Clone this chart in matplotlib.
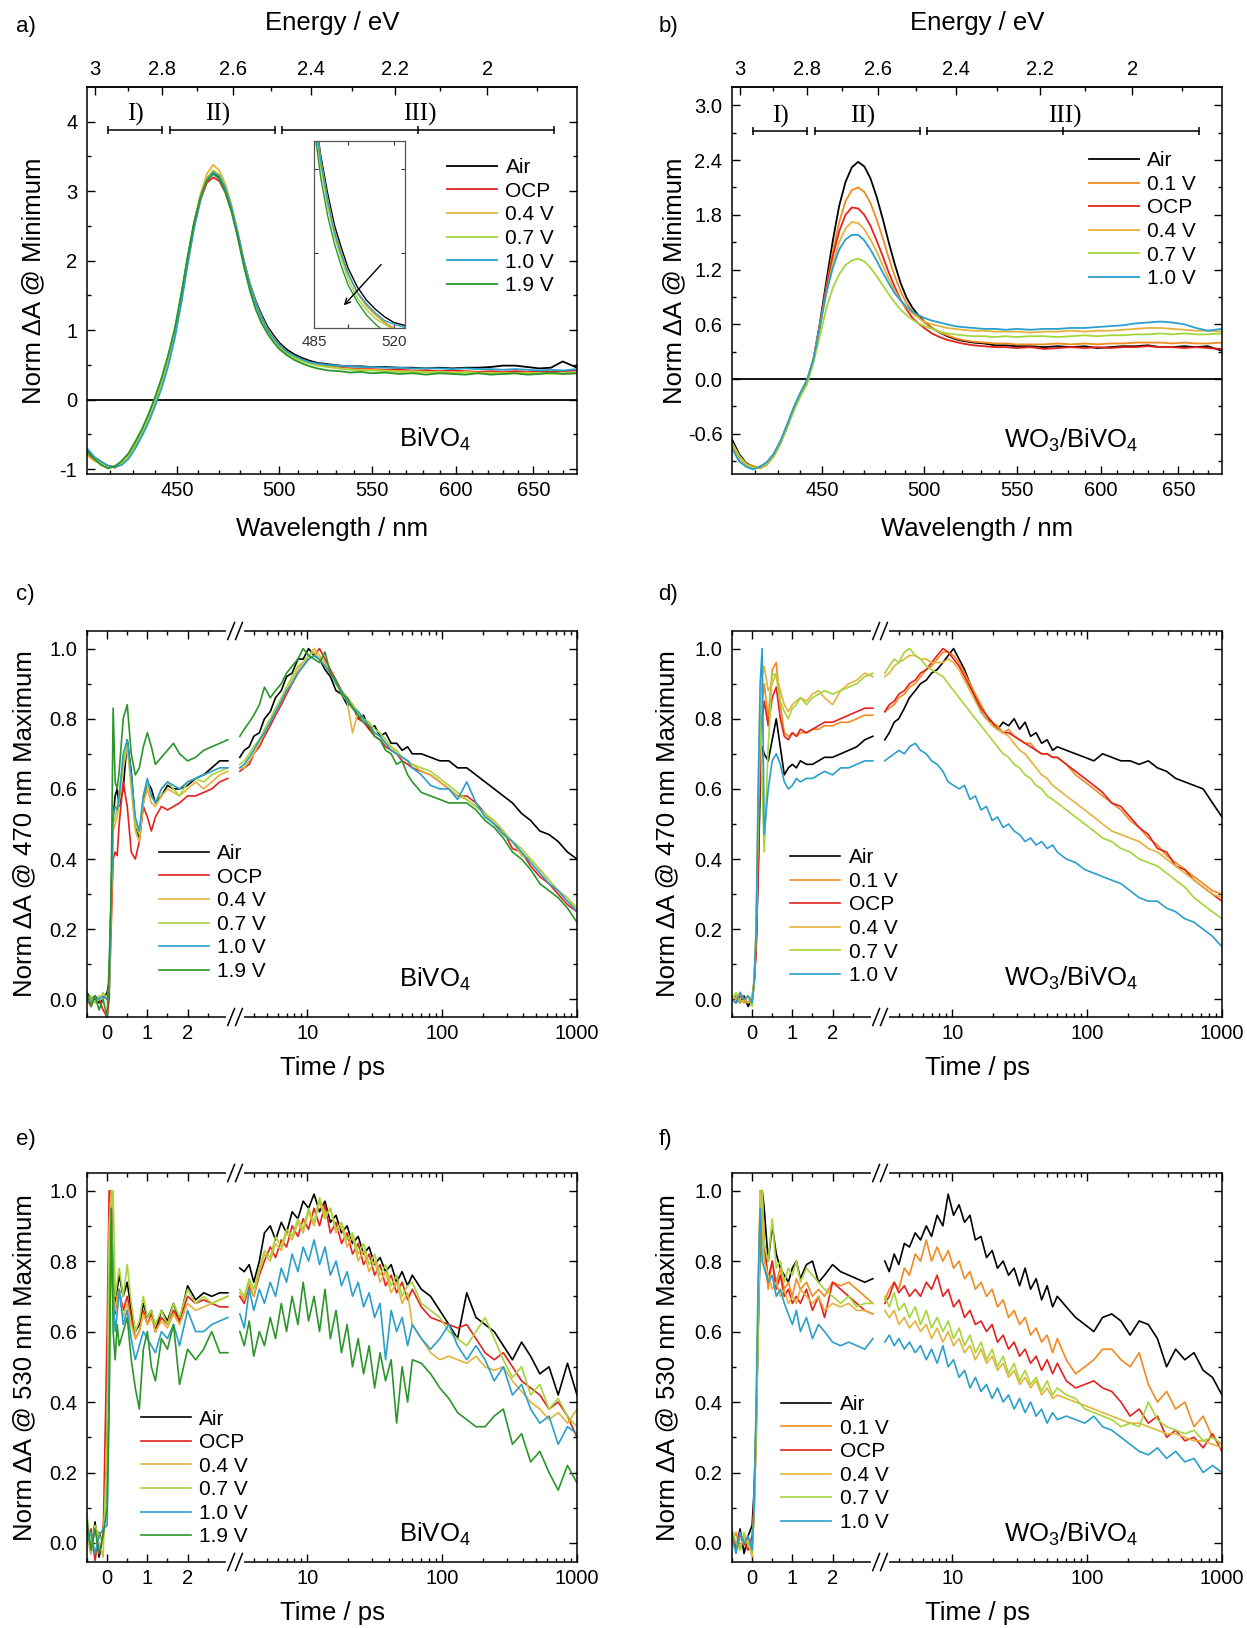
import numpy as np
import matplotlib
matplotlib.use("Agg")
import matplotlib.pyplot as plt
from matplotlib.ticker import FixedLocator, FuncFormatter, NullFormatter

plt.rcParams['font.family'] = ['Liberation Sans', 'DejaVu Sans']
plt.rcParams['mathtext.default'] = 'regular'
plt.rcParams['axes.unicode_minus'] = False
plt.rcParams['axes.linewidth'] = 1.1

TICK = 14.5
LAB = 18.5
LEG = 15

COLORS = {'Air': '#000000', '0.1 V': '#f28a22', 'OCP': '#e3221f', '0.4 V': '#e5b33c',
          '0.7 V': '#a5d63a', '1.0 V': '#2b9fcb', '1.9 V': '#2a962a'}

# ---------------- spectra (a, b) ----------------
WL = [410, 413, 416, 419, 422, 425, 428, 431, 434, 437, 440,
      443, 446, 449, 452, 455, 458, 461, 464, 467, 470, 473, 476, 479, 482, 485, 488, 491, 494, 497, 500,
      504, 508, 512, 516, 520,
      526, 532, 538, 544, 550,
      558, 566, 574, 582, 590, 598, 606, 614, 622, 630, 638, 646, 654, 662, 670,
      680]

A_AIR = [-0.72, -0.84, -0.90, -0.96, -0.97, -0.90, -0.80, -0.64, -0.46, -0.24, 0.02,
         0.30, 0.62, 1.00, 1.50, 2.05, 2.55, 2.92, 3.18, 3.28, 3.20, 3.02, 2.75, 2.40, 2.00, 1.68, 1.42, 1.22, 1.05, 0.93, 0.82,
         0.72, 0.65, 0.60, 0.56, 0.53,
         0.51, 0.49, 0.48, 0.48, 0.47,
         0.47, 0.46, 0.46, 0.45, 0.46, 0.45, 0.46, 0.46, 0.47, 0.49, 0.49, 0.47, 0.45, 0.46, 0.55,
         0.46]
A_OCP = [-0.78, -0.86, -0.93, -0.95, -0.98, -0.91, -0.79, -0.62, -0.45, -0.25, 0.00,
         0.28, 0.60, 0.98, 1.47, 2.00, 2.50, 2.88, 3.12, 3.20, 3.15, 2.98, 2.72, 2.37, 1.98, 1.65, 1.38, 1.18, 1.02, 0.90, 0.79,
         0.69, 0.62, 0.57, 0.53, 0.50,
         0.48, 0.46, 0.45, 0.44, 0.44,
         0.43, 0.43, 0.42, 0.42, 0.41, 0.42, 0.41, 0.40, 0.41, 0.40, 0.41, 0.40, 0.41, 0.40, 0.41,
         0.42]
A_04 = [-0.80, -0.88, -0.92, -0.97, -0.96, -0.92, -0.82, -0.65, -0.48, -0.27, -0.02,
        0.26, 0.58, 0.97, 1.48, 2.04, 2.56, 2.96, 3.25, 3.38, 3.30, 3.10, 2.80, 2.42, 2.02, 1.68, 1.40, 1.19, 1.02, 0.90, 0.79,
        0.69, 0.62, 0.57, 0.53, 0.50,
        0.47, 0.45, 0.44, 0.43, 0.43,
        0.42, 0.41, 0.41, 0.40, 0.40, 0.39, 0.40, 0.39, 0.38, 0.39, 0.38, 0.39, 0.38, 0.38, 0.37,
        0.38]
A_07 = [-0.76, -0.83, -0.91, -0.98, -0.95, -0.90, -0.81, -0.66, -0.47, -0.26, 0.00,
        0.27, 0.60, 0.98, 1.47, 2.02, 2.52, 2.90, 3.18, 3.30, 3.24, 3.05, 2.76, 2.38, 1.98, 1.64, 1.36, 1.15, 0.99, 0.87, 0.76,
        0.66, 0.60, 0.55, 0.52, 0.49,
        0.47, 0.45, 0.43, 0.42, 0.42,
        0.41, 0.40, 0.40, 0.39, 0.40, 0.38, 0.39, 0.38, 0.39, 0.37, 0.38, 0.37, 0.38, 0.37, 0.38,
        0.39]
A_10 = [-0.70, -0.82, -0.89, -0.95, -0.97, -0.94, -0.85, -0.70, -0.52, -0.32, -0.08,
        0.18, 0.50, 0.90, 1.40, 1.96, 2.48, 2.88, 3.16, 3.27, 3.22, 3.04, 2.76, 2.40, 2.00, 1.66, 1.39, 1.18, 1.01, 0.89, 0.79,
        0.69, 0.63, 0.58, 0.54, 0.52,
        0.50, 0.49, 0.48, 0.47, 0.47,
        0.46, 0.46, 0.45, 0.45, 0.45, 0.44, 0.45, 0.44, 0.44, 0.43, 0.44, 0.43, 0.42, 0.43, 0.42,
        0.44]
A_19 = [-0.74, -0.85, -0.94, -0.99, -0.96, -0.88, -0.77, -0.60, -0.42, -0.20, 0.05,
        0.33, 0.66, 1.04, 1.54, 2.08, 2.56, 2.92, 3.15, 3.25, 3.18, 2.98, 2.70, 2.34, 1.93, 1.58, 1.30, 1.10, 0.95, 0.83, 0.73,
        0.64, 0.57, 0.52, 0.48, 0.45,
        0.42, 0.41, 0.39, 0.40, 0.38,
        0.39, 0.37, 0.38, 0.36, 0.38, 0.37, 0.36, 0.38, 0.36, 0.37, 0.38, 0.36, 0.37, 0.39, 0.37,
        0.38]

B_AIR = [-0.66, -0.82, -0.92, -0.96, -0.97, -0.93, -0.84, -0.70, -0.52, -0.33, -0.18,
         -0.04, 0.22, 0.62, 1.08, 1.52, 1.90, 2.16, 2.32, 2.38, 2.33, 2.20, 2.00, 1.76, 1.50, 1.26, 1.05, 0.89, 0.78, 0.70, 0.63,
         0.56, 0.51, 0.47, 0.44, 0.42,
         0.40, 0.39, 0.37, 0.37, 0.36,
         0.36, 0.35, 0.36, 0.35, 0.36, 0.34, 0.35, 0.36, 0.36, 0.37, 0.35, 0.35, 0.36, 0.35, 0.36,
         0.31]
B_01 = [-0.70, -0.84, -0.93, -0.95, -0.98, -0.94, -0.85, -0.71, -0.53, -0.34, -0.17,
        -0.03, 0.22, 0.60, 1.02, 1.40, 1.72, 1.95, 2.07, 2.10, 2.05, 1.93, 1.75, 1.55, 1.33, 1.13, 0.96, 0.83, 0.74, 0.68, 0.62,
        0.56, 0.51, 0.48, 0.45, 0.43,
        0.41, 0.40, 0.39, 0.39, 0.38,
        0.38, 0.38, 0.39, 0.38, 0.39, 0.38, 0.39, 0.39, 0.40, 0.40, 0.40, 0.39, 0.40, 0.39, 0.39,
        0.40]
B_OCP = [-0.72, -0.85, -0.92, -0.97, -0.96, -0.92, -0.83, -0.69, -0.51, -0.32, -0.16,
         -0.02, 0.22, 0.60, 1.00, 1.35, 1.62, 1.80, 1.88, 1.87, 1.80, 1.68, 1.52, 1.35, 1.17, 1.01, 0.87, 0.76, 0.67, 0.61, 0.56,
         0.50, 0.46, 0.43, 0.41, 0.39,
         0.37, 0.36, 0.35, 0.35, 0.34,
         0.35, 0.33, 0.34, 0.35, 0.34, 0.35, 0.34, 0.35, 0.35, 0.36, 0.35, 0.35, 0.34, 0.35, 0.34,
         0.33]
B_04 = [-0.74, -0.88, -0.95, -0.98, -0.97, -0.92, -0.82, -0.68, -0.50, -0.31, -0.15,
        -0.01, 0.22, 0.58, 0.95, 1.27, 1.50, 1.65, 1.72, 1.71, 1.64, 1.53, 1.40, 1.25, 1.10, 0.97, 0.86, 0.78, 0.72, 0.67, 0.63,
        0.60, 0.58, 0.56, 0.55, 0.54,
        0.53, 0.53, 0.52, 0.52, 0.52,
        0.51, 0.52, 0.52, 0.53, 0.52, 0.53, 0.53, 0.54, 0.55, 0.56, 0.56, 0.55, 0.54, 0.53, 0.53,
        0.52]
B_07 = [-0.70, -0.84, -0.93, -0.97, -0.96, -0.93, -0.84, -0.70, -0.53, -0.35, -0.19,
        -0.06, 0.18, 0.48, 0.78, 1.00, 1.15, 1.25, 1.30, 1.32, 1.29, 1.22, 1.13, 1.03, 0.93, 0.84, 0.76, 0.70, 0.65, 0.61, 0.58,
        0.55, 0.52, 0.50, 0.49, 0.48,
        0.47, 0.47, 0.46, 0.47, 0.46,
        0.47, 0.47, 0.46, 0.47, 0.48, 0.47, 0.48, 0.48, 0.49, 0.49, 0.50, 0.49, 0.50, 0.49, 0.49,
        0.50]
B_10 = [-0.76, -0.90, -0.96, -0.99, -0.96, -0.91, -0.82, -0.68, -0.50, -0.31, -0.15,
        -0.01, 0.22, 0.58, 0.95, 1.22, 1.42, 1.53, 1.58, 1.58, 1.52, 1.42, 1.30, 1.17, 1.05, 0.94, 0.86, 0.79, 0.74, 0.70, 0.67,
        0.64, 0.62, 0.60, 0.58, 0.57,
        0.56, 0.55, 0.55, 0.54, 0.55,
        0.54, 0.55, 0.55, 0.56, 0.56, 0.57, 0.58, 0.59, 0.61, 0.62, 0.63, 0.62, 0.60, 0.56, 0.53,
        0.55]

# ---------------- kinetics (c-f) ----------------
T_EARLY = [-0.5, -0.4, -0.3, -0.2, -0.1, 0.0,
           0.05, 0.1, 0.15, 0.2, 0.25, 0.3,
           0.4, 0.5, 0.6, 0.7, 0.8, 0.9, 1.0, 1.1, 1.2,
           1.35, 1.5, 1.65, 1.8,
           2.0, 2.2, 2.4, 2.6, 2.8, 3.0]
T_LOG = [3.15, 3.4, 3.7, 4.0, 4.4, 4.8, 5.3, 5.8, 6.4, 7.0,
         7.7, 8.5, 9.3, 10.2, 11.2, 12.3, 13.5, 14.8, 16.3, 17.9,
         19.7, 21.6, 23.8, 26.1, 28.7, 31.5, 34.6, 38.0, 41.8, 45.9,
         50.4, 55.4, 60.0,
         70, 82, 96, 112, 130, 152, 178,
         208, 243, 284, 332, 388, 453, 530, 620, 725, 850,
         1000]

# c) BiVO4, 470 nm
C_AIR_E = [0.02, 0.0, 0.01, -0.01, 0.0, 0.02,
           0.05, 0.28, 0.52, 0.58, 0.60, 0.55,
           0.60, 0.74, 0.65, 0.50, 0.46, 0.56, 0.62, 0.60, 0.56,
           0.58, 0.61, 0.60, 0.60,
           0.61, 0.63, 0.64, 0.66, 0.68, 0.68]
C_AIR_L = [0.69, 0.71, 0.72, 0.75, 0.76, 0.80, 0.82, 0.86, 0.88, 0.92,
           0.93, 0.97, 0.97, 1.00, 0.98, 0.97, 0.94, 0.92, 0.88, 0.87,
           0.84, 0.84, 0.80, 0.81, 0.77, 0.78, 0.75, 0.76, 0.73, 0.73,
           0.71, 0.72, 0.70,
           0.70, 0.69, 0.68, 0.68, 0.66, 0.66, 0.64,
           0.62, 0.60, 0.58, 0.56, 0.53, 0.51, 0.48, 0.47, 0.45, 0.42,
           0.40]
C_OCP_E = [0.0, -0.02, 0.01, 0.0, -0.03, -0.05,
           0.0, 0.20, 0.40, 0.42, 0.41, 0.50,
           0.62, 0.55, 0.42, 0.40, 0.45, 0.55, 0.52, 0.48, 0.52,
           0.55, 0.54, 0.55, 0.56,
           0.58, 0.58, 0.59, 0.60, 0.62, 0.63]
C_OCP_L = [0.65, 0.66, 0.67, 0.70, 0.72, 0.75, 0.78, 0.81, 0.84, 0.87,
           0.90, 0.93, 0.95, 0.97, 0.98, 1.00, 0.97, 0.94, 0.91, 0.88,
           0.86, 0.84, 0.80, 0.79, 0.77, 0.75, 0.74, 0.72, 0.71, 0.70,
           0.68, 0.67, 0.66,
           0.65, 0.64, 0.62, 0.60, 0.58, 0.58, 0.56,
           0.53, 0.50, 0.48, 0.43, 0.42, 0.38, 0.35, 0.33, 0.30, 0.27,
           0.25]
C_04_E = [0.01, 0.0, -0.01, 0.01, 0.0, 0.01,
          0.03, 0.25, 0.48, 0.50, 0.52, 0.56,
          0.66, 0.72, 0.60, 0.48, 0.45, 0.56, 0.60, 0.56, 0.55,
          0.58, 0.60, 0.59, 0.58,
          0.60, 0.62, 0.60, 0.62, 0.64, 0.65]
C_04_L = [0.66, 0.66, 0.68, 0.70, 0.73, 0.76, 0.79, 0.82, 0.85, 0.88,
          0.91, 0.94, 0.96, 0.98, 1.00, 0.98, 0.96, 0.93, 0.90, 0.87,
          0.85, 0.76, 0.82, 0.80, 0.78, 0.76, 0.75, 0.73, 0.72, 0.70,
          0.69, 0.68, 0.67,
          0.65, 0.64, 0.62, 0.60, 0.58, 0.57, 0.55,
          0.53, 0.50, 0.47, 0.45, 0.41, 0.40, 0.37, 0.34, 0.31, 0.28,
          0.26]
C_07_E = [0.0, 0.01, -0.01, 0.0, 0.02, 0.0,
          0.04, 0.30, 0.50, 0.52, 0.55, 0.58,
          0.68, 0.73, 0.62, 0.50, 0.47, 0.58, 0.62, 0.58, 0.56,
          0.60, 0.62, 0.60, 0.58,
          0.62, 0.63, 0.62, 0.64, 0.65, 0.66]
C_07_L = [0.67, 0.68, 0.70, 0.72, 0.74, 0.77, 0.80, 0.83, 0.86, 0.89,
          0.92, 0.95, 0.96, 0.98, 0.99, 0.97, 0.95, 0.93, 0.90, 0.88,
          0.86, 0.84, 0.82, 0.80, 0.79, 0.77, 0.76, 0.74, 0.72, 0.71,
          0.69, 0.68, 0.67,
          0.66, 0.65, 0.63, 0.61, 0.59, 0.57, 0.55,
          0.53, 0.51, 0.48, 0.45, 0.43, 0.40, 0.37, 0.34, 0.31, 0.29,
          0.26]
C_10_E = [0.0, -0.01, 0.01, 0.0, 0.01, 0.0,
          0.03, 0.30, 0.53, 0.55, 0.54, 0.58,
          0.70, 0.74, 0.64, 0.52, 0.48, 0.58, 0.63, 0.58, 0.56,
          0.60, 0.62, 0.61, 0.60,
          0.62, 0.63, 0.64, 0.65, 0.66, 0.66]
C_10_L = [0.66, 0.67, 0.69, 0.71, 0.74, 0.76, 0.79, 0.82, 0.85, 0.88,
          0.90, 0.93, 0.95, 0.97, 0.98, 0.97, 0.95, 0.93, 0.90, 0.88,
          0.85, 0.83, 0.82, 0.80, 0.78, 0.76, 0.75, 0.73, 0.71, 0.70,
          0.69, 0.68, 0.66,
          0.64, 0.61, 0.60, 0.60, 0.57, 0.62, 0.56,
          0.52, 0.50, 0.47, 0.45, 0.42, 0.39, 0.36, 0.33, 0.31, 0.28,
          0.25]
C_19_E = [0.02, -0.02, 0.01, -0.03, 0.0, -0.05,
          0.10, 0.30, 0.83, 0.62, 0.60, 0.65,
          0.80, 0.84, 0.70, 0.64, 0.66, 0.72, 0.76, 0.72, 0.67,
          0.69, 0.71, 0.73, 0.70,
          0.68, 0.69, 0.71, 0.72, 0.73, 0.74]
C_19_L = [0.75, 0.77, 0.79, 0.81, 0.84, 0.89, 0.86, 0.88, 0.90, 0.93,
          0.95, 0.97, 1.00, 0.98, 0.97, 0.96, 0.99, 0.93, 0.91, 0.87,
          0.86, 0.83, 0.81, 0.79, 0.78, 0.75, 0.74, 0.71, 0.70, 0.67,
          0.68, 0.64, 0.62,
          0.59, 0.58, 0.57, 0.56, 0.56, 0.56, 0.54,
          0.51, 0.49, 0.46, 0.42, 0.40, 0.37, 0.33, 0.31, 0.29, 0.26,
          0.22]

# d) WO3/BiVO4, 470 nm
D_AIR_E = [0.0, 0.01, -0.01, 0.01, -0.02, 0.0,
           0.05, 0.15, 0.35, 0.60, 0.72, 0.70,
           0.68, 0.74, 0.80, 0.72, 0.64, 0.66, 0.67, 0.66, 0.68,
           0.67, 0.67, 0.68, 0.69,
           0.69, 0.70, 0.71, 0.72, 0.74, 0.75]
D_AIR_L = [0.74, 0.76, 0.79, 0.80, 0.83, 0.86, 0.88, 0.90, 0.91, 0.93,
           0.94, 0.96, 0.98, 1.00, 0.97, 0.94, 0.90, 0.86, 0.82, 0.80,
           0.79, 0.77, 0.79, 0.78, 0.80, 0.77, 0.79, 0.75, 0.76, 0.73,
           0.74, 0.71, 0.72,
           0.71, 0.70, 0.69, 0.68, 0.70, 0.69, 0.68,
           0.68, 0.67, 0.68, 0.66, 0.65, 0.63, 0.62, 0.61, 0.60, 0.56,
           0.52]
D_01_E = [0.0, 0.01, 0.0, -0.01, 0.01, 0.0,
          0.05, 0.15, 0.40, 0.70, 0.85, 0.90,
          0.80, 0.94, 0.96, 0.84, 0.76, 0.75, 0.76, 0.75, 0.76,
          0.76, 0.77, 0.77, 0.78,
          0.78, 0.79, 0.79, 0.80, 0.81, 0.81]
D_01_L = [0.82, 0.83, 0.84, 0.86, 0.87, 0.89, 0.90, 0.92, 0.94, 0.95,
          0.97, 0.99, 0.99, 0.98, 0.96, 0.93, 0.90, 0.87, 0.84, 0.81,
          0.79, 0.78, 0.76, 0.77, 0.75, 0.74, 0.73, 0.73, 0.71, 0.70,
          0.70, 0.69, 0.69,
          0.67, 0.64, 0.62, 0.60, 0.58, 0.56, 0.54,
          0.51, 0.49, 0.46, 0.44, 0.41, 0.39, 0.37, 0.35, 0.33, 0.31,
          0.30]
D_OCP_E = [0.0, -0.01, 0.01, 0.0, -0.01, 0.0,
           0.04, 0.14, 0.38, 0.68, 0.80, 0.85,
           0.78, 0.86, 0.89, 0.80, 0.75, 0.74, 0.76, 0.75, 0.77,
           0.76, 0.77, 0.78, 0.79,
           0.79, 0.80, 0.81, 0.82, 0.83, 0.83]
D_OCP_L = [0.82, 0.84, 0.85, 0.87, 0.88, 0.90, 0.91, 0.93, 0.94, 0.96,
           0.98, 1.00, 0.99, 0.97, 0.95, 0.92, 0.89, 0.86, 0.83, 0.81,
           0.79, 0.77, 0.76, 0.76, 0.75, 0.74, 0.73, 0.72, 0.71, 0.70,
           0.70, 0.69, 0.69,
           0.67, 0.65, 0.63, 0.61, 0.59, 0.56, 0.55,
           0.52, 0.49, 0.47, 0.43, 0.42, 0.38, 0.37, 0.34, 0.32, 0.30,
           0.28]
D_04_E = [0.01, 0.0, 0.02, 0.0, -0.01, 0.01,
          0.06, 0.20, 0.50, 0.80, 0.92, 0.95,
          0.88, 0.90, 0.93, 0.88, 0.84, 0.82, 0.84, 0.85, 0.86,
          0.85, 0.87, 0.88, 0.86,
          0.84, 0.88, 0.90, 0.91, 0.93, 0.92]
D_04_L = [0.92, 0.93, 0.95, 0.96, 0.97, 0.98, 0.98, 0.97, 0.97, 0.96,
          0.96, 0.96, 0.97, 0.96, 0.94, 0.91, 0.88, 0.85, 0.82, 0.80,
          0.78, 0.77, 0.76, 0.75, 0.73, 0.71, 0.70, 0.68, 0.66, 0.64,
          0.63, 0.61, 0.60,
          0.58, 0.56, 0.54, 0.52, 0.50, 0.48, 0.47,
          0.46, 0.45, 0.43, 0.42, 0.40, 0.38, 0.36, 0.34, 0.32, 0.30,
          0.29]
D_07_E = [0.0, 0.02, -0.01, 0.0, 0.01, -0.02,
          0.05, 0.20, 0.55, 0.85, 0.60, 0.42,
          0.72, 0.93, 0.92, 0.85, 0.82, 0.80, 0.83, 0.84, 0.86,
          0.84, 0.86, 0.87, 0.88,
          0.87, 0.88, 0.89, 0.90, 0.92, 0.93]
D_07_L = [0.93, 0.95, 0.97, 0.96, 0.99, 1.00, 0.98, 0.97, 0.95, 0.94,
          0.93, 0.92, 0.90, 0.88, 0.86, 0.84, 0.82, 0.80, 0.78, 0.76,
          0.74, 0.72, 0.70, 0.69, 0.67, 0.66, 0.64, 0.63, 0.61, 0.60,
          0.58, 0.57, 0.56,
          0.54, 0.52, 0.50, 0.48, 0.46, 0.45, 0.43,
          0.42, 0.40, 0.39, 0.38, 0.36, 0.34, 0.32, 0.29, 0.27, 0.25,
          0.23]
D_10_E = [0.0, -0.01, 0.02, 0.0, 0.01, -0.01,
          0.05, 0.20, 0.60, 0.90, 1.00, 0.47,
          0.60, 0.68, 0.70, 0.67, 0.62, 0.60, 0.61, 0.63, 0.62,
          0.63, 0.63, 0.64, 0.65,
          0.64, 0.66, 0.66, 0.67, 0.68, 0.68]
D_10_L = [0.68, 0.69, 0.70, 0.71, 0.70, 0.72, 0.73, 0.71, 0.70, 0.68,
          0.67, 0.65, 0.62, 0.61, 0.60, 0.61, 0.57, 0.58, 0.54, 0.55,
          0.51, 0.52, 0.49, 0.50, 0.48, 0.47, 0.45, 0.46, 0.44, 0.45,
          0.43, 0.44, 0.42,
          0.40, 0.39, 0.37, 0.36, 0.35, 0.34, 0.33,
          0.31, 0.29, 0.28, 0.28, 0.26, 0.25, 0.23, 0.22, 0.20, 0.18,
          0.15]

# e) BiVO4, 530 nm
E_AIR_E = [0.05, -0.03, 0.06, -0.04, 0.02, 0.25,
           0.85, 1.00, 0.75, 0.68, 0.72, 0.76,
           0.70, 0.74, 0.66, 0.60, 0.62, 0.68, 0.64, 0.66, 0.60,
           0.66, 0.63, 0.68, 0.63,
           0.73, 0.69, 0.71, 0.70, 0.71, 0.71]
E_AIR_L = [0.78, 0.77, 0.79, 0.74, 0.80, 0.88, 0.90, 0.86, 0.91, 0.88,
           0.94, 0.92, 0.97, 0.95, 0.99, 0.94, 0.97, 0.91, 0.93, 0.88,
           0.90, 0.85, 0.87, 0.82, 0.84, 0.79, 0.81, 0.77, 0.79, 0.74,
           0.77, 0.73, 0.76,
           0.72, 0.70, 0.66, 0.62, 0.58, 0.71, 0.64,
           0.62, 0.60, 0.56, 0.52, 0.57, 0.53, 0.48, 0.50, 0.42, 0.51,
           0.42]
E_OCP_E = [0.0, 0.04, -0.05, 0.03, 0.0, 0.60,
           1.00, 0.80, 0.70, 0.65, 0.70, 0.72,
           0.66, 0.70, 0.64, 0.58, 0.60, 0.66, 0.62, 0.65, 0.60,
           0.64, 0.62, 0.66, 0.63,
           0.70, 0.68, 0.69, 0.68, 0.67, 0.67]
E_OCP_L = [0.70, 0.68, 0.73, 0.70, 0.76, 0.80, 0.84, 0.81, 0.86, 0.84,
           0.90, 0.87, 0.92, 0.89, 0.95, 0.90, 0.96, 0.88, 0.91, 0.85,
           0.88, 0.82, 0.85, 0.79, 0.82, 0.76, 0.79, 0.73, 0.76, 0.71,
           0.74, 0.69, 0.72,
           0.67, 0.64, 0.63, 0.62, 0.61, 0.62, 0.58,
           0.54, 0.52, 0.54, 0.50, 0.46, 0.44, 0.42, 0.38, 0.40, 0.36,
           0.30]
E_04_E = [0.02, -0.03, 0.04, 0.0, -0.04, 0.30,
          0.90, 1.00, 0.72, 0.66, 0.70, 0.72,
          0.64, 0.68, 0.62, 0.58, 0.60, 0.65, 0.62, 0.64, 0.60,
          0.63, 0.61, 0.65, 0.62,
          0.68, 0.66, 0.67, 0.68, 0.69, 0.70]
E_04_L = [0.71, 0.69, 0.74, 0.70, 0.77, 0.82, 0.80, 0.85, 0.83, 0.88,
          0.86, 0.91, 0.88, 0.94, 0.90, 0.97, 0.92, 0.95, 0.88, 0.90,
          0.84, 0.87, 0.80, 0.83, 0.77, 0.80, 0.74, 0.77, 0.71, 0.74,
          0.68, 0.71, 0.62,
          0.58, 0.54, 0.52, 0.53, 0.52, 0.51, 0.53,
          0.50, 0.49, 0.50, 0.46, 0.43, 0.40, 0.38, 0.35, 0.37, 0.34,
          0.38]
E_07_E = [0.08, -0.02, 0.05, 0.02, 0.0, 0.20,
          0.80, 0.95, 1.00, 0.70, 0.74, 0.78,
          0.70, 0.79, 0.68, 0.60, 0.63, 0.70, 0.64, 0.66, 0.62,
          0.66, 0.62, 0.68, 0.64,
          0.72, 0.68, 0.70, 0.68, 0.69, 0.70]
E_07_L = [0.72, 0.70, 0.75, 0.72, 0.78, 0.83, 0.81, 0.87, 0.84, 0.89,
          0.87, 0.92, 0.89, 0.95, 0.91, 0.98, 0.93, 0.95, 0.89, 0.91,
          0.86, 0.88, 0.82, 0.85, 0.79, 0.82, 0.76, 0.79, 0.73, 0.76,
          0.70, 0.73, 0.74,
          0.68, 0.66, 0.64, 0.60, 0.58, 0.56, 0.60,
          0.64, 0.58, 0.52, 0.47, 0.50, 0.42, 0.45, 0.38, 0.41, 0.36,
          0.33]
E_10_E = [0.0, 0.03, -0.03, 0.02, 0.04, 0.05,
          0.40, 0.90, 0.70, 0.60, 0.65, 0.72,
          0.62, 0.66, 0.58, 0.52, 0.56, 0.60, 0.58, 0.56, 0.54,
          0.60, 0.58, 0.62, 0.56,
          0.66, 0.60, 0.60, 0.62, 0.63, 0.64]
E_10_L = [0.65, 0.61, 0.72, 0.66, 0.72, 0.68, 0.74, 0.70, 0.78, 0.74,
          0.82, 0.77, 0.84, 0.80, 0.86, 0.79, 0.84, 0.76, 0.80, 0.73,
          0.77, 0.70, 0.74, 0.67, 0.71, 0.64, 0.68, 0.52, 0.66, 0.60,
          0.64, 0.56, 0.62,
          0.58, 0.55, 0.58, 0.62, 0.56, 0.52, 0.56,
          0.52, 0.46, 0.50, 0.42, 0.45, 0.38, 0.34, 0.36, 0.28, 0.33,
          0.31]
E_19_E = [0.06, -0.02, 0.04, -0.03, 0.02, 0.10,
          0.40, 0.95, 0.60, 0.52, 0.62, 0.56,
          0.60, 0.64, 0.52, 0.44, 0.38, 0.55, 0.60, 0.50, 0.46,
          0.58, 0.55, 0.62, 0.45,
          0.55, 0.52, 0.55, 0.60, 0.54, 0.54]
E_19_L = [0.60, 0.56, 0.63, 0.53, 0.60, 0.56, 0.64, 0.58, 0.68, 0.60,
          0.70, 0.62, 0.74, 0.63, 0.70, 0.60, 0.72, 0.58, 0.66, 0.54,
          0.62, 0.50, 0.58, 0.48, 0.56, 0.44, 0.54, 0.46, 0.52, 0.34,
          0.50, 0.40, 0.52,
          0.51, 0.48, 0.44, 0.41, 0.37, 0.35, 0.33,
          0.33, 0.36, 0.38, 0.28, 0.31, 0.23, 0.26, 0.20, 0.15, 0.22,
          0.17]

# f) WO3/BiVO4, 530 nm
F_AIR_E = [0.03, -0.02, 0.04, -0.03, 0.02, 0.05,
           0.15, 0.35, 0.60, 0.85, 1.00, 0.95,
           0.80, 0.90, 0.82, 0.78, 0.76, 0.74, 0.78, 0.80, 0.75,
           0.79, 0.80, 0.74, 0.76,
           0.79, 0.77, 0.76, 0.75, 0.74, 0.75]
F_AIR_L = [0.80, 0.77, 0.82, 0.79, 0.85, 0.84, 0.88, 0.86, 0.90, 0.87,
           0.93, 0.90, 0.99, 0.93, 0.96, 0.91, 0.93, 0.86, 0.87, 0.81,
           0.83, 0.78, 0.80, 0.76, 0.78, 0.73, 0.78, 0.72, 0.75, 0.69,
           0.73, 0.67, 0.70,
           0.67, 0.64, 0.62, 0.60, 0.64, 0.65, 0.63,
           0.59, 0.63, 0.62, 0.58, 0.50, 0.55, 0.52, 0.54, 0.49, 0.47,
           0.42]
F_01_E = [0.0, 0.03, -0.02, 0.02, -0.01, 0.0,
          0.10, 0.30, 0.60, 1.00, 0.90, 0.82,
          0.72, 0.80, 0.74, 0.78, 0.72, 0.74, 0.70, 0.75, 0.72,
          0.74, 0.70, 0.72, 0.70,
          0.74, 0.73, 0.74, 0.72, 0.70, 0.68]
F_01_L = [0.69, 0.72, 0.74, 0.72, 0.78, 0.76, 0.82, 0.80, 0.86, 0.80,
          0.84, 0.80, 0.83, 0.78, 0.80, 0.75, 0.77, 0.72, 0.74, 0.70,
          0.72, 0.67, 0.69, 0.64, 0.66, 0.62, 0.64, 0.59, 0.61, 0.57,
          0.59, 0.54, 0.58,
          0.52, 0.48, 0.50, 0.52, 0.55, 0.55, 0.52,
          0.50, 0.54, 0.45, 0.40, 0.43, 0.38, 0.40, 0.33, 0.36, 0.30,
          0.28]
F_OCP_E = [0.02, -0.01, 0.03, 0.0, -0.02, 0.02,
           0.12, 0.30, 0.65, 0.95, 1.00, 0.85,
           0.75, 0.80, 0.72, 0.76, 0.70, 0.72, 0.68, 0.70, 0.68,
           0.72, 0.66, 0.70, 0.64,
           0.74, 0.72, 0.70, 0.68, 0.66, 0.65]
F_OCP_L = [0.68, 0.70, 0.74, 0.71, 0.73, 0.70, 0.72, 0.70, 0.74, 0.72,
           0.76, 0.70, 0.72, 0.67, 0.69, 0.64, 0.66, 0.62, 0.63, 0.60,
           0.62, 0.57, 0.59, 0.55, 0.57, 0.53, 0.55, 0.51, 0.53, 0.49,
           0.52, 0.48, 0.51,
           0.46, 0.44, 0.45, 0.46, 0.44, 0.43, 0.40,
           0.36, 0.38, 0.34, 0.36, 0.30, 0.32, 0.29, 0.30, 0.27, 0.31,
           0.26]
F_04_E = [0.0, -0.02, 0.01, 0.02, 0.0, -0.04,
          0.10, 0.35, 0.70, 1.00, 0.90, 0.80,
          0.76, 0.72, 0.74, 0.70, 0.72, 0.68, 0.70, 0.68, 0.72,
          0.70, 0.68, 0.70, 0.66,
          0.68, 0.67, 0.68, 0.66, 0.66, 0.65]
F_04_L = [0.66, 0.64, 0.66, 0.62, 0.64, 0.61, 0.63, 0.60, 0.62, 0.58,
          0.61, 0.57, 0.60, 0.56, 0.58, 0.54, 0.56, 0.52, 0.55, 0.51,
          0.53, 0.49, 0.51, 0.47, 0.49, 0.45, 0.47, 0.44, 0.46, 0.42,
          0.44, 0.41, 0.42,
          0.41, 0.40, 0.39, 0.38, 0.37, 0.36, 0.35,
          0.34, 0.34, 0.33, 0.32, 0.31, 0.31, 0.30, 0.29, 0.29, 0.28,
          0.27]
F_07_E = [0.04, 0.0, -0.02, 0.03, 0.0, -0.03,
          0.08, 0.30, 0.60, 0.90, 1.00, 0.85,
          0.80, 0.92, 0.78, 0.80, 0.74, 0.78, 0.76, 0.80, 0.74,
          0.78, 0.76, 0.74, 0.72,
          0.70, 0.68, 0.70, 0.67, 0.68, 0.68]
F_07_L = [0.70, 0.67, 0.71, 0.66, 0.68, 0.64, 0.67, 0.62, 0.66, 0.61,
          0.64, 0.60, 0.63, 0.58, 0.61, 0.56, 0.59, 0.54, 0.57, 0.52,
          0.55, 0.50, 0.53, 0.48, 0.51, 0.46, 0.49, 0.45, 0.47, 0.43,
          0.46, 0.42, 0.44,
          0.42, 0.41, 0.38, 0.37, 0.36, 0.35, 0.33,
          0.34, 0.33, 0.40, 0.35, 0.33, 0.32, 0.31, 0.32, 0.29, 0.30,
          0.28]
F_10_E = [0.02, -0.03, 0.03, 0.0, 0.02, -0.02,
          0.10, 0.40, 0.75, 0.95, 0.80, 0.78,
          0.74, 0.76, 0.70, 0.72, 0.68, 0.65, 0.62, 0.66, 0.60,
          0.64, 0.58, 0.62, 0.60,
          0.57, 0.56, 0.57, 0.56, 0.55, 0.58]
F_10_L = [0.57, 0.59, 0.56, 0.58, 0.55, 0.57, 0.54, 0.56, 0.52, 0.55,
          0.51, 0.56, 0.50, 0.52, 0.47, 0.49, 0.44, 0.47, 0.43, 0.45,
          0.41, 0.44, 0.40, 0.42, 0.38, 0.41, 0.37, 0.40, 0.36, 0.38,
          0.34, 0.37, 0.35,
          0.36, 0.35, 0.34, 0.36, 0.33, 0.32, 0.30,
          0.28, 0.26, 0.25, 0.27, 0.24, 0.26, 0.23, 0.24, 0.20, 0.22,
          0.20]

EV_MAJOR = [3.0, 2.8, 2.6, 2.4, 2.2, 2.0]
EV_MINOR = [2.9, 2.7, 2.5, 2.3, 2.1, 1.9]
WL_MAJOR = [450, 500, 550, 600, 650]
WL_MINOR = [420, 430, 440, 460, 470, 480, 490, 510, 520, 530, 540, 560, 570, 580, 590,
            610, 620, 630, 640, 660, 670]
T_MAJOR = [0, 1, 2, 10, 100, 1000]
T_MINOR = [-0.5, 0.5, 1.5, 2.5, 4, 5, 6, 7, 8, 9, 20, 30, 40, 50, 60, 70, 80, 90,
           200, 300, 400, 500, 600, 700, 800, 900]

# broken time axis: linear up to 3.1 ps, then log (one decade = K_DEC linear units)
T_BRK = 3.1
T_LOG0 = 2.75
K_DEC = 3.35


def fwd(t):
    t = np.asarray(t, dtype=float)
    lg = T_BRK + K_DEC * np.log10(np.clip(t, 1e-6, None) / T_LOG0)
    return np.where(t <= T_BRK, t, lg)


def inv(u):
    u = np.asarray(u, dtype=float)
    return np.where(u <= T_BRK, u, T_LOG0 * 10 ** ((u - T_BRK) / K_DEC))


def to_ev(x):
    x = np.asarray(x, dtype=float)
    with np.errstate(divide='ignore', invalid='ignore'):
        return 1239.84 / x


def style(ax, top):
    ax.tick_params(which='both', direction='in', right=True, top=top, width=1.0, labelsize=TICK)
    ax.tick_params(which='major', length=5.5)
    ax.tick_params(which='minor', length=3)
    ax.tick_params(axis='x', pad=5)
    ax.tick_params(axis='y', pad=7)


def add_legend(ax, xy):
    ax.legend(loc='upper left', bbox_to_anchor=xy, frameon=False, fontsize=LEG,
              handlelength=2.4, handletextpad=0.4, labelspacing=0.22,
              borderpad=0, borderaxespad=0)


def bracket(ax, x0, x1, y, mid=None):
    ax.plot([x0, x1], [y, y], color='k', lw=1.1)
    pts = [x0, x1] + ([mid] if mid else [])
    ax.plot(pts, [y] * len(pts), ls='none', marker='|', ms=6, mew=1.1, color='k')


def spectra_panel(ax, series, yticks, yminor, ylim, yfmt, brk_y, lab_y,
                  leg_xy, sample, sample_xy, ylab_x):
    ax.axhline(0, color='k', lw=1.3, zorder=1)
    for name, y in series:
        ax.plot(WL, y, color=COLORS[name], lw=1.3, label=name)
    ax.set_xscale('log')
    ax.set_xlim(410, 680)
    ax.set_ylim(*ylim)
    ax.xaxis.set_major_locator(FixedLocator(WL_MAJOR))
    ax.xaxis.set_major_formatter(FuncFormatter(lambda v, p: f"{v:.0f}"))
    ax.xaxis.set_minor_locator(FixedLocator(WL_MINOR))
    ax.xaxis.set_minor_formatter(NullFormatter())
    ax.yaxis.set_major_locator(FixedLocator(yticks))
    ax.yaxis.set_major_formatter(FuncFormatter(yfmt))
    ax.yaxis.set_minor_locator(FixedLocator(yminor))
    style(ax, top=False)

    sec = ax.secondary_xaxis('top', functions=(to_ev, to_ev))
    sec.xaxis.set_major_locator(FixedLocator(EV_MAJOR))
    sec.xaxis.set_major_formatter(FuncFormatter(lambda v, p: f"{v:g}"))
    sec.xaxis.set_minor_locator(FixedLocator(EV_MINOR))
    sec.xaxis.set_minor_formatter(NullFormatter())
    sec.tick_params(which='both', direction='in', width=1.0, labelsize=TICK, pad=6)
    sec.tick_params(which='major', length=5.5)
    sec.tick_params(which='minor', length=3)
    ax.text(0.5, 1.135, 'Energy / eV', transform=ax.transAxes, fontsize=LAB,
            ha='center', va='bottom')

    ax.set_xlabel('Wavelength / nm', fontsize=LAB)
    ax.xaxis.set_label_coords(0.5, -0.11)
    ax.set_ylabel('Norm ΔA @ Minimum', fontsize=LAB)
    ax.yaxis.set_label_coords(ylab_x, 0.5)

    # spectral regions
    bracket(ax, 419, 443, brk_y)
    bracket(ax, 446.5, 498, brk_y)
    bracket(ax, 501.5, 664, brk_y, mid=577)
    for lab, x in (('I)', 431), ('II)', 469), ('III)', 578)):
        ax.text(x, lab_y, lab, fontfamily='Liberation Serif', fontsize=18,
                ha='center', va='center')

    add_legend(ax, leg_xy)
    ax.text(sample_xy[0], sample_xy[1], sample, transform=ax.transAxes,
            fontsize=LAB, ha='left', va='baseline')


def break_marks(ax):
    u0 = float(fwd(-0.5))
    u1 = float(fwd(1000.0))
    xb = (3.18 - u0) / (u1 - u0)
    for yb in (0.0, 1.0):
        ax.plot([xb - 0.014, xb + 0.014], [yb, yb], color='white', lw=3,
                transform=ax.transAxes, clip_on=False, zorder=5)
        for dx in (-0.008, 0.008):
            ax.plot([xb + dx - 0.007, xb + dx + 0.007], [yb - 0.022, yb + 0.022],
                    color='k', lw=1.1, transform=ax.transAxes, clip_on=False, zorder=6)


def time_panel(ax, series, ylab, ylim, leg_xy, sample, sample_xy, ylab_x):
    ax.set_xscale('function', functions=(fwd, inv))
    for name, ye, yl in series:
        c = COLORS[name]
        ax.plot(T_EARLY, ye, color=c, lw=1.2, label=name)
        ax.plot(T_LOG, yl, color=c, lw=1.2)
    ax.set_xlim(-0.5, 1000)
    ax.set_ylim(*ylim)
    ax.xaxis.set_major_locator(FixedLocator(T_MAJOR))
    ax.xaxis.set_major_formatter(FuncFormatter(lambda v, p: f"{v:g}"))
    ax.xaxis.set_minor_locator(FixedLocator(T_MINOR))
    ax.xaxis.set_minor_formatter(NullFormatter())
    ax.yaxis.set_major_locator(FixedLocator([0.0, 0.2, 0.4, 0.6, 0.8, 1.0]))
    ax.yaxis.set_major_formatter(FuncFormatter(lambda v, p: f"{v:.1f}"))
    ax.yaxis.set_minor_locator(FixedLocator([0.1, 0.3, 0.5, 0.7, 0.9]))
    style(ax, top=True)
    ax.set_xlabel('Time / ps', fontsize=LAB)
    ax.xaxis.set_label_coords(0.5, -0.1)
    ax.set_ylabel(ylab, fontsize=LAB)
    ax.yaxis.set_label_coords(ylab_x, 0.5)
    break_marks(ax)
    add_legend(ax, leg_xy)
    ax.text(sample_xy[0], sample_xy[1], sample, transform=ax.transAxes,
            fontsize=LAB, ha='left', va='baseline')


fig = plt.figure(figsize=(12.47, 16.28), dpi=100)
W, H = 1247.0, 1628.0
COL = [87 / W, 732 / W]
AW = 490 / W
ROWS = [(474, 387), (1017, 386), (1562, 389)]


def rect(col, row):
    b, h = ROWS[row]
    return [COL[col], 1 - b / H, AW, h / H]


ax_a = fig.add_axes(rect(0, 0))
ax_b = fig.add_axes(rect(1, 0))
ax_c = fig.add_axes(rect(0, 1))
ax_d = fig.add_axes(rect(1, 1))
ax_e = fig.add_axes(rect(0, 2))
ax_f = fig.add_axes(rect(1, 2))

A_SERIES = [('Air', A_AIR), ('OCP', A_OCP), ('0.4 V', A_04), ('0.7 V', A_07),
            ('1.0 V', A_10), ('1.9 V', A_19)]
B_SERIES = [('Air', B_AIR), ('0.1 V', B_01), ('OCP', B_OCP), ('0.4 V', B_04),
            ('0.7 V', B_07), ('1.0 V', B_10)]

spectra_panel(ax_a, A_SERIES, [-1, 0, 1, 2, 3, 4], [-0.5, 0.5, 1.5, 2.5, 3.5],
              (-1.07, 4.5), lambda v, p: f"{v:g}", 3.88, 4.11,
              (0.735, 0.816), 'BiVO$_4$', (0.637, 0.07), -0.085)
spectra_panel(ax_b, B_SERIES, [-0.6, 0.0, 0.6, 1.2, 1.8, 2.4, 3.0],
              [-0.9, -0.3, 0.3, 0.9, 1.5, 2.1, 2.7],
              (-1.04, 3.2), lambda v, p: f"{v:.1f}", 2.72, 2.88,
              (0.728, 0.834), 'WO$_3$/BiVO$_4$', (0.555, 0.067), -0.094)

# inset of panel a
ax_in = fig.add_axes([314 / W, 1 - 328 / H, 91 / W, 187 / H])
for name, y in A_SERIES:
    ax_in.plot(WL, y, color=COLORS[name], lw=1.0)
ax_in.set_xlim(485, 525)
ax_in.set_ylim(0.5, 1.5)
ax_in.xaxis.set_major_locator(FixedLocator([485, 520]))
ax_in.xaxis.set_minor_locator(FixedLocator([500]))
ax_in.yaxis.set_major_locator(FixedLocator([0.9, 1.35]))
ax_in.yaxis.set_major_formatter(NullFormatter())
ax_in.tick_params(which='both', direction='in', top=True, right=True, length=3,
                  width=0.8, labelsize=11, pad=5, colors='#333333')
for s in ax_in.spines.values():
    s.set_color('#555555')
    s.set_linewidth(0.9)
ax_in.annotate('', xy=(497.3, 0.61), xytext=(515.3, 0.85),
               arrowprops=dict(arrowstyle='->', lw=1.0, color='k', mutation_scale=10))

C_SERIES = [('Air', C_AIR_E, C_AIR_L), ('OCP', C_OCP_E, C_OCP_L), ('0.4 V', C_04_E, C_04_L),
            ('0.7 V', C_07_E, C_07_L), ('1.0 V', C_10_E, C_10_L), ('1.9 V', C_19_E, C_19_L)]
D_SERIES = [('Air', D_AIR_E, D_AIR_L), ('0.1 V', D_01_E, D_01_L), ('OCP', D_OCP_E, D_OCP_L),
            ('0.4 V', D_04_E, D_04_L), ('0.7 V', D_07_E, D_07_L), ('1.0 V', D_10_E, D_10_L)]
E_SERIES = [('Air', E_AIR_E, E_AIR_L), ('OCP', E_OCP_E, E_OCP_L), ('0.4 V', E_04_E, E_04_L),
            ('0.7 V', E_07_E, E_07_L), ('1.0 V', E_10_E, E_10_L), ('1.9 V', E_19_E, E_19_L)]
F_SERIES = [('Air', F_AIR_E, F_AIR_L), ('0.1 V', F_01_E, F_01_L), ('OCP', F_OCP_E, F_OCP_L),
            ('0.4 V', F_04_E, F_04_L), ('0.7 V', F_07_E, F_07_L), ('1.0 V', F_10_E, F_10_L)]

time_panel(ax_c, C_SERIES, 'Norm ΔA @ 470 nm Maximum', (-0.05, 1.05),
           (0.146, 0.448), 'BiVO$_4$', (0.637, 0.078), -0.103)
time_panel(ax_d, D_SERIES, 'Norm ΔA @ 470 nm Maximum', (-0.05, 1.05),
           (0.119, 0.437), 'WO$_3$/BiVO$_4$', (0.555, 0.082), -0.107)
time_panel(ax_e, E_SERIES, 'Norm ΔA @ 530 nm Maximum', (-0.054, 1.05),
           (0.11, 0.392), 'BiVO$_4$', (0.637, 0.052), -0.103)
time_panel(ax_f, F_SERIES, 'Norm ΔA @ 530 nm Maximum', (-0.054, 1.05),
           (0.101, 0.429), 'WO$_3$/BiVO$_4$', (0.555, 0.052), -0.107)

for lab, x, y in (('a)', 0.013, 0.984), ('b)', 0.528, 0.984), ('c)', 0.013, 0.635),
                  ('d)', 0.528, 0.635), ('e)', 0.013, 0.300), ('f)', 0.528, 0.300)):
    fig.text(x, y, lab, fontsize=16, ha='left', va='center')

fig.savefig('out.png', dpi=100)
